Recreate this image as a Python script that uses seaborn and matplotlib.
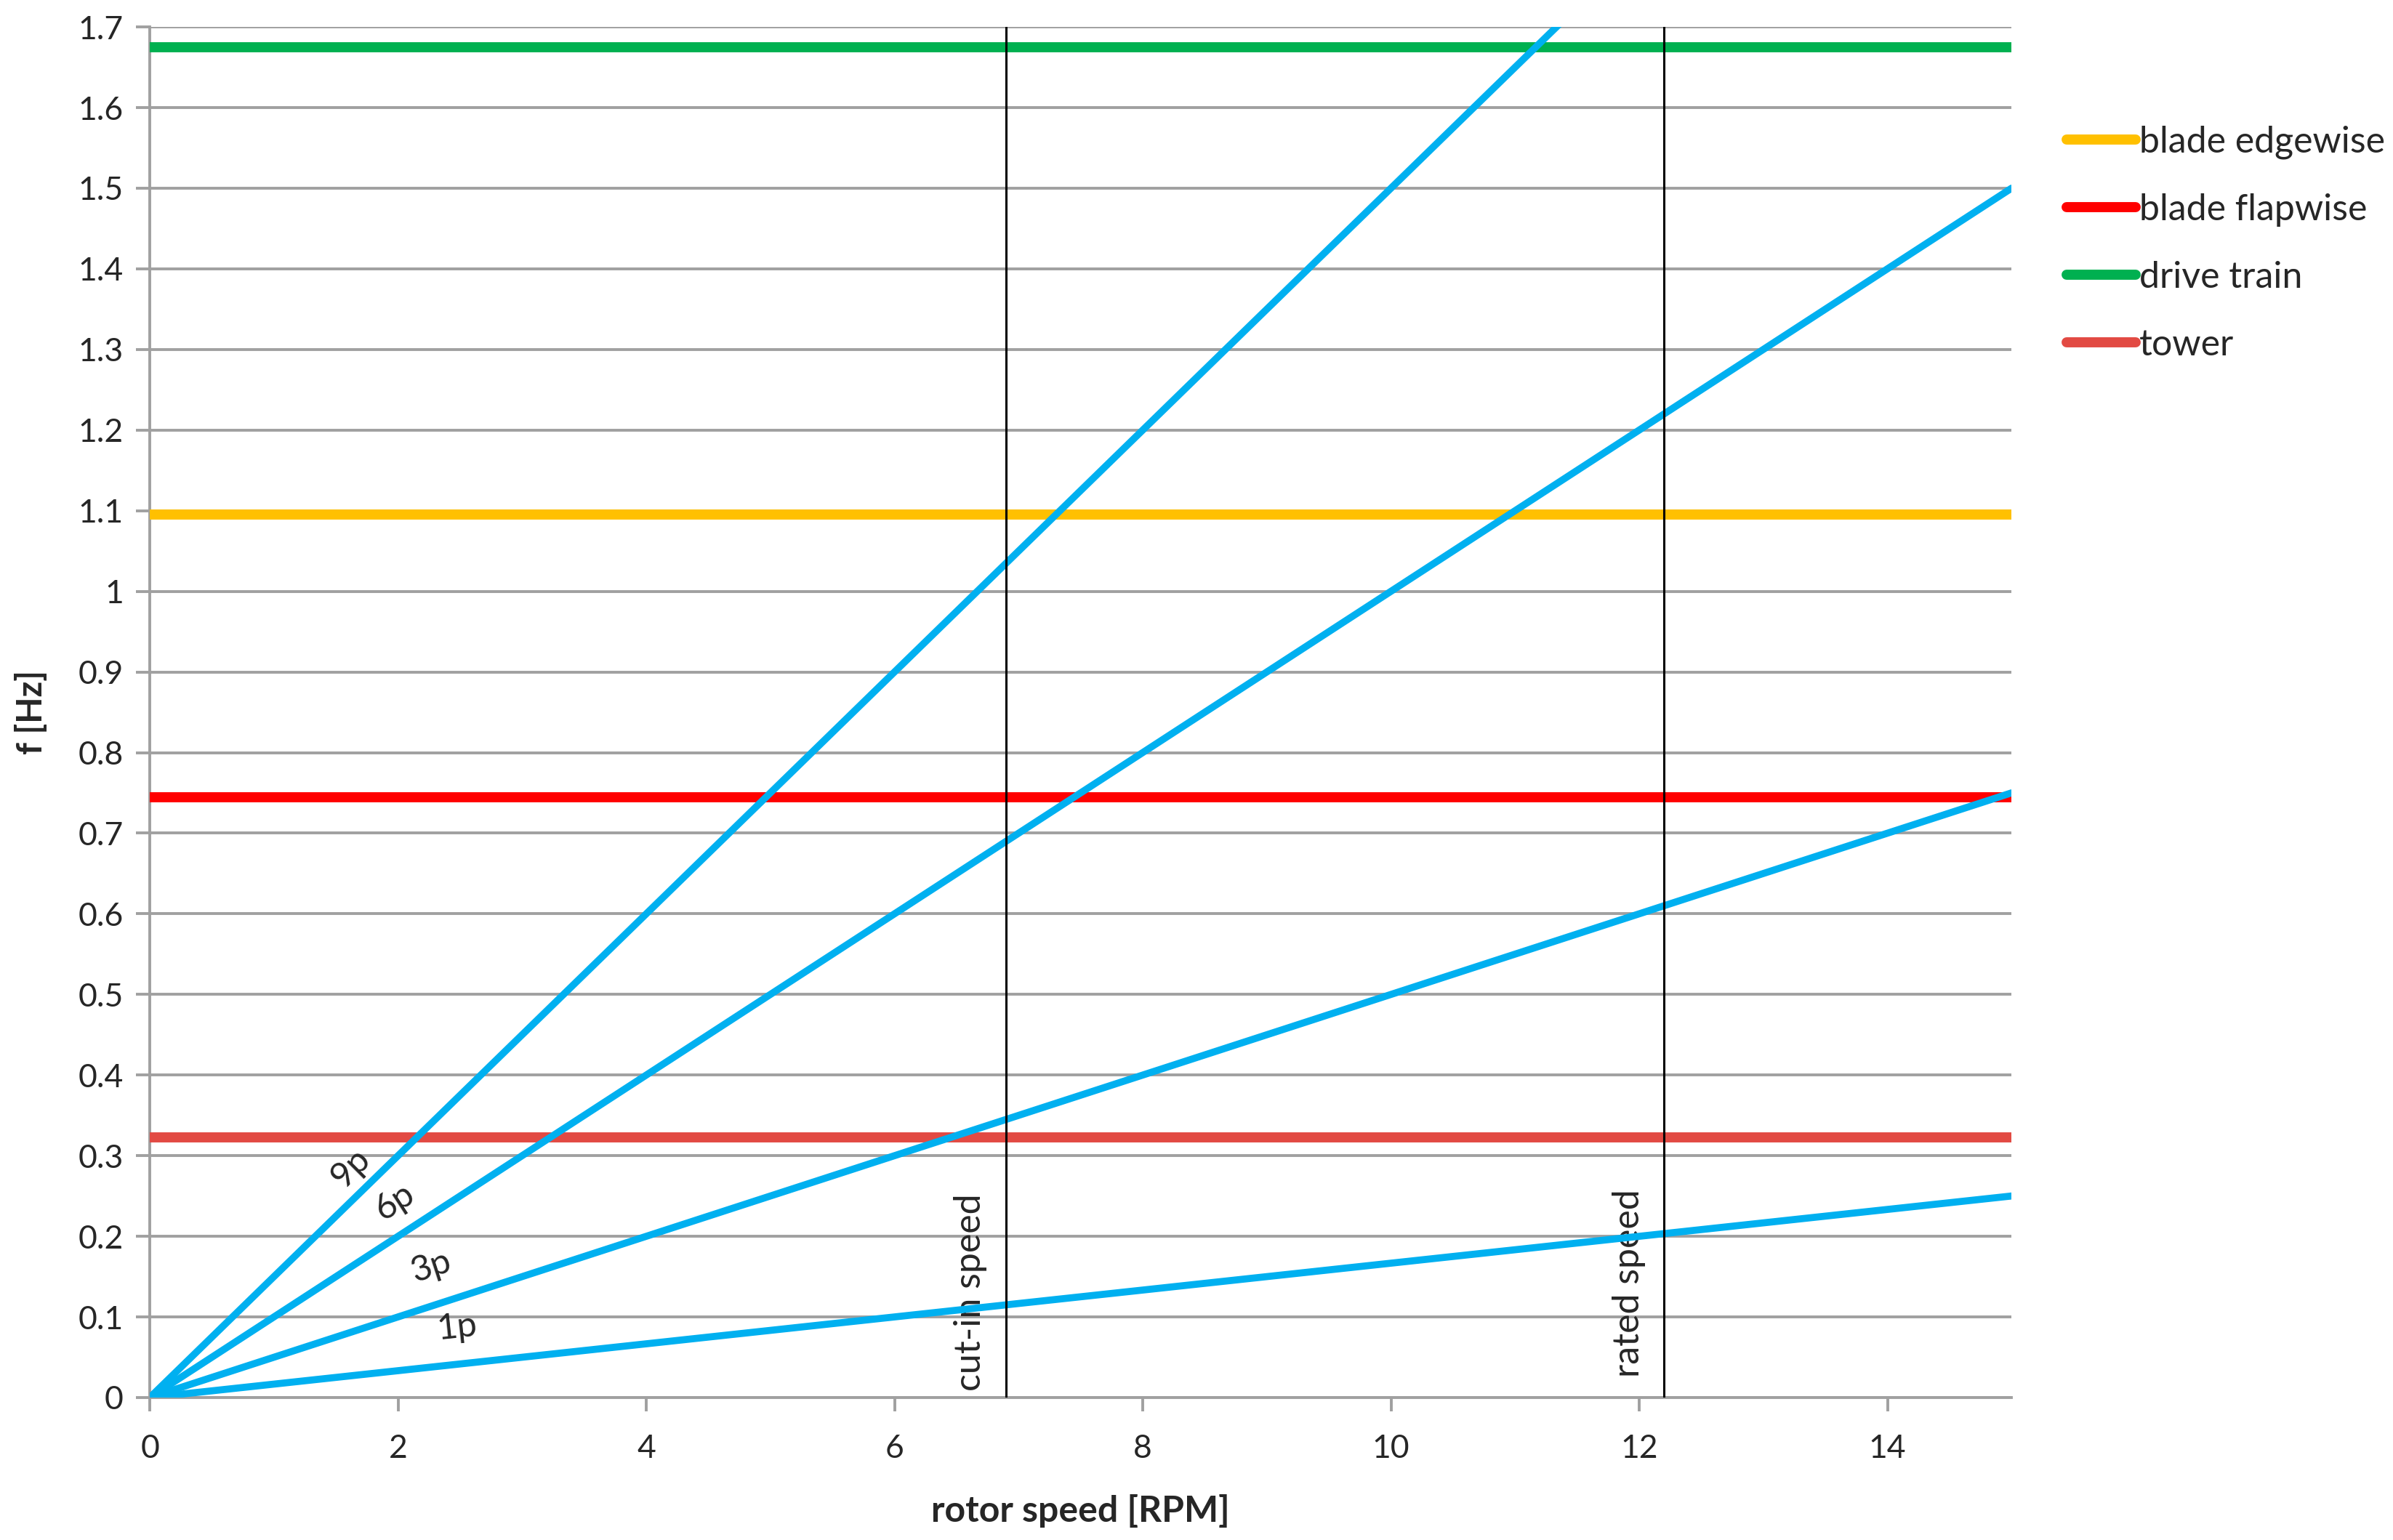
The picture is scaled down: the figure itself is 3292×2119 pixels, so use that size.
import pandas as pd
import seaborn as sns
import matplotlib.pyplot as plt

# rotor speed range and harmonic excitation lines (end points)
rpm = [0, 15]
harmonics = ['1p', '3p', '6p', '9p']
harmonic_freq = {'1p': [0, 0.25], '3p': [0, 0.75], '6p': [0, 1.5], '9p': [0, 2.25]}

# natural frequencies [Hz]
modes = ['blade edgewise', 'blade flapwise', 'drive train', 'tower']
mode_freq = [1.095, 0.745, 1.675, 0.323]
mode_colors = ['#ffc000', '#ff0000', '#00b050', '#e24a43']

cut_in = 6.9
rated = 12.2

# label positions for the harmonic lines (x, y, angle)
harm_labels = {'9p': (1.62, 0.285, 45), '6p': (1.97, 0.243, 33),
               '3p': (2.27, 0.163, 18), '1p': (2.48, 0.087, 6)}


def plot():
    sns.set_style(style="white")
    plt.rcParams['font.family'] = ['Lato', 'DejaVu Sans']

    fig = plt.figure(figsize=(32.92, 21.19), dpi=100)
    ax = fig.add_axes([0.0626, 0.0925, 0.778, 0.89])

    rows = []
    for h in harmonics:
        for x, y in zip(rpm, harmonic_freq[h]):
            rows.append({'rpm': x, 'f': y, 'order': h})
    df = pd.DataFrame(rows)

    rows = []
    for m, f in zip(modes, mode_freq):
        for x in rpm:
            rows.append({'rpm': x, 'f': f, 'mode': m})
    dm = pd.DataFrame(rows)

    sns.lineplot(data=dm, x='rpm', y='f', hue='mode', hue_order=modes,
                 palette=mode_colors, linewidth=10, ax=ax, legend=False, zorder=3)
    sns.lineplot(data=df, x='rpm', y='f', units='order', estimator=None,
                 color='#00b0f0', linewidth=7, ax=ax, legend=False, zorder=4)

    ax.axvline(cut_in, color='black', linewidth=2.2, zorder=5)
    ax.axvline(rated, color='black', linewidth=2.2, zorder=5)
    ax.text(cut_in - 0.29, 0.008, 'cut-in speed', rotation=90, ha='center', va='bottom', fontsize=36)
    ax.text(rated - 0.28, 0.025, 'rated speed', rotation=90, ha='center', va='bottom', fontsize=36)

    for h in harmonics:
        x, y, a = harm_labels[h]
        ax.text(x, y, h, rotation=a, ha='center', va='center', fontsize=35,
                rotation_mode='anchor')

    ax.set_xlim(0, 15)
    ax.set_ylim(0, 1.7)
    ax.set_xticks(range(0, 15, 2))
    yt = [i / 10 for i in range(18)]
    ax.set_yticks(yt)
    ax.set_yticklabels(['%g' % v for v in yt])
    ax.grid(axis='y', color='#a0a0a0', linewidth=2.8, zorder=0)
    ax.set_axisbelow(True)
    for s in ['top', 'right']:
        ax.spines[s].set_visible(False)
    for s in ['left', 'bottom']:
        ax.spines[s].set_color('#a0a0a0')
        ax.spines[s].set_linewidth(2.8)
    ax.tick_params(axis='y', direction='out', length=14, width=2.8, color='#a0a0a0',
                   labelsize=32, pad=12, left=True)
    ax.tick_params(axis='x', direction='out', length=14, width=2.8, color='#a0a0a0',
                   labelsize=32, pad=22, bottom=True)

    ax.set_xlabel('rotor speed [RPM]', fontsize=36, fontweight='bold', labelpad=30)
    ax.set_ylabel('f [Hz]', fontsize=34, fontweight='bold', labelpad=30)

    handles = [plt.Line2D([0], [0], color=c, linewidth=10, solid_capstyle='round') for c in mode_colors]
    fig.legend(handles, modes, loc='upper left', bbox_to_anchor=(0.85, 0.94), frameon=False,
               fontsize=36, handlelength=1.9, handletextpad=0.1, labelspacing=0.94)

    fig.savefig('out.png', dpi=100)


plot()
